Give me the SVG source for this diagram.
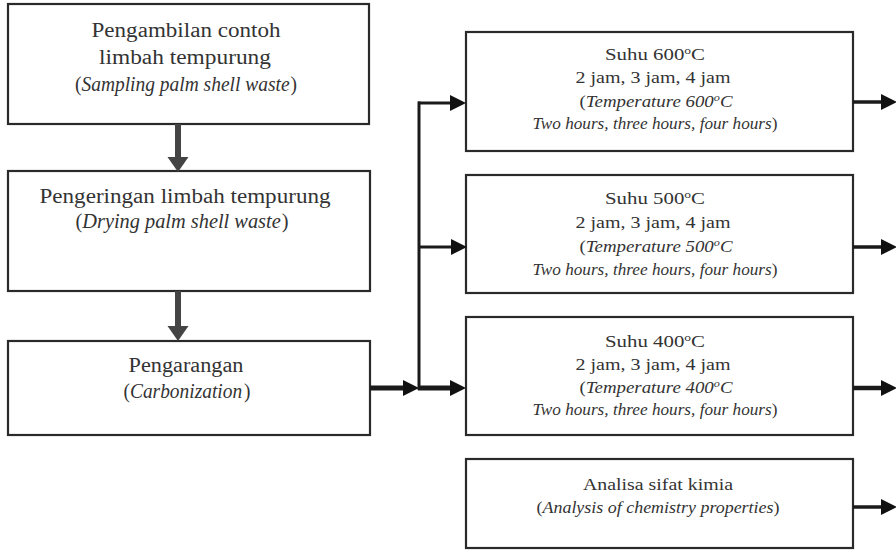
<svg xmlns="http://www.w3.org/2000/svg" width="896" height="551" viewBox="0 0 896 551">
<style>
.box{fill:#fff;stroke:#2a2a2a;stroke-width:2.2}
.t{fill:#333;text-anchor:middle}
.l{font-size:20px}
.r{font-size:17px}
.i{font-style:italic}
.c{fill:none;stroke:#1a1a1a}
.v{stroke:#444;stroke-width:6}
</style>
<defs>
<marker id="ah" markerUnits="userSpaceOnUse" markerWidth="17" markerHeight="17" refX="0" refY="8" orient="auto" viewBox="0 0 17 17">
<path d="M0,0 L16,8 L0,16 z" fill="#111"/>
</marker>
<marker id="av" markerUnits="userSpaceOnUse" markerWidth="16" markerHeight="22" refX="0" refY="10.5" orient="auto" viewBox="0 0 16 22">
<path d="M0,0 L15,10.5 L0,21 z" fill="#444"/>
</marker>
</defs>
<rect width="896" height="551" fill="#fff"/>
<g font-family="Liberation Serif, Times New Roman, serif">
<g id="n1">
<rect class="box" x="8" y="4" width="361" height="120"/>
<text class="t l" x="186" y="37" textLength="189" lengthAdjust="spacingAndGlyphs">Pengambilan contoh</text>
<text class="t l" x="185" y="64" textLength="172" lengthAdjust="spacingAndGlyphs">limbah tempurung</text>
<text class="t l" x="186" y="91" textLength="222" lengthAdjust="spacingAndGlyphs">(<tspan class="i">Sampling palm shell waste</tspan><tspan dx="1">)</tspan></text>
</g>
<g id="n2">
<rect class="box" x="8" y="171" width="362" height="120"/>
<text class="t l" x="185" y="203" textLength="291" lengthAdjust="spacingAndGlyphs">Pengeringan limbah tempurung</text>
<text class="t l" x="182" y="228" textLength="213" lengthAdjust="spacingAndGlyphs">(<tspan class="i">Drying palm shell waste</tspan><tspan dx="1">)</tspan></text>
</g>
<g id="n3">
<rect class="box" x="8" y="341" width="362" height="94"/>
<text class="t l" x="186" y="372" textLength="115" lengthAdjust="spacingAndGlyphs">Pengarangan</text>
<text class="t l" x="187" y="398" textLength="127" lengthAdjust="spacingAndGlyphs">(<tspan class="i">Carbonization</tspan><tspan dx="2">)</tspan></text>
</g>
<g id="n4">
<rect class="box" x="466" y="32" width="387" height="119"/>
<text class="t r" x="655" y="60" textLength="100" lengthAdjust="spacingAndGlyphs">Suhu 600<tspan dy="-6" font-size="11">o</tspan><tspan dy="6">C</tspan></text>
<text class="t r" x="653" y="83" textLength="155" lengthAdjust="spacingAndGlyphs">2 jam, 3 jam, 4 jam</text>
<text class="t r" x="656" y="107" textLength="153" lengthAdjust="spacingAndGlyphs">(<tspan class="i">Temperature 600</tspan><tspan class="i" dy="-6" font-size="11">o</tspan><tspan class="i" dy="6">C</tspan></text>
<text class="t r" x="655" y="129" textLength="245" lengthAdjust="spacingAndGlyphs"><tspan class="i">Two hours, three hours, four hours</tspan>)</text>
</g>
<g id="n5">
<rect class="box" x="466" y="175" width="387" height="118"/>
<text class="t r" x="655" y="204" textLength="100" lengthAdjust="spacingAndGlyphs">Suhu 500<tspan dy="-6" font-size="11">o</tspan><tspan dy="6">C</tspan></text>
<text class="t r" x="653" y="228" textLength="155" lengthAdjust="spacingAndGlyphs">2 jam, 3 jam, 4 jam</text>
<text class="t r" x="656" y="252" textLength="153" lengthAdjust="spacingAndGlyphs">(<tspan class="i">Temperature 500</tspan><tspan class="i" dy="-6" font-size="11">o</tspan><tspan class="i" dy="6">C</tspan></text>
<text class="t r" x="655" y="275" textLength="245" lengthAdjust="spacingAndGlyphs"><tspan class="i">Two hours, three hours, four hours</tspan>)</text>
</g>
<g id="n6">
<rect class="box" x="466" y="317" width="387" height="118"/>
<text class="t r" x="655" y="347" textLength="100" lengthAdjust="spacingAndGlyphs">Suhu 400<tspan dy="-6" font-size="11">o</tspan><tspan dy="6">C</tspan></text>
<text class="t r" x="653" y="370" textLength="155" lengthAdjust="spacingAndGlyphs">2 jam, 3 jam, 4 jam</text>
<text class="t r" x="656" y="393" textLength="153" lengthAdjust="spacingAndGlyphs">(<tspan class="i">Temperature 400</tspan><tspan class="i" dy="-6" font-size="11">o</tspan><tspan class="i" dy="6">C</tspan></text>
<text class="t r" x="655" y="415" textLength="245" lengthAdjust="spacingAndGlyphs"><tspan class="i">Two hours, three hours, four hours</tspan>)</text>
</g>
<g id="n7">
<rect class="box" x="466" y="459" width="387" height="89"/>
<text class="t r" x="658" y="490" textLength="150" lengthAdjust="spacingAndGlyphs">Analisa sifat kimia</text>
<text class="t r" x="658" y="513" textLength="243" lengthAdjust="spacingAndGlyphs">(<tspan class="i">Analysis of chemistry properties</tspan>)</text>
</g>
</g>
<g id="connectors">
<line class="c v" x1="178" y1="124" x2="178" y2="157" marker-end="url(#av)"/>
<line class="c v" x1="178" y1="291" x2="178" y2="326" marker-end="url(#av)"/>
<line class="c" stroke-width="5" x1="370" y1="388" x2="403" y2="388" marker-end="url(#ah)"/>
<line class="c" stroke-width="3" x1="419" y1="101.5" x2="419" y2="390"/>
<line class="c" stroke-width="3" x1="418" y1="103" x2="450" y2="103" marker-end="url(#ah)"/>
<line class="c" stroke-width="3" x1="418" y1="247" x2="451" y2="247" marker-end="url(#ah)"/>
<line class="c" stroke-width="5" x1="418" y1="388" x2="450" y2="388" marker-end="url(#ah)"/>
<line class="c" stroke-width="3.5" x1="853" y1="102" x2="881" y2="102" marker-end="url(#ah)"/>
<line class="c" stroke-width="3.5" x1="853" y1="247" x2="881" y2="247" marker-end="url(#ah)"/>
<line class="c" stroke-width="4.5" x1="853" y1="388" x2="881" y2="388" marker-end="url(#ah)"/>
<line class="c" stroke-width="3.5" x1="853" y1="507" x2="881" y2="507" marker-end="url(#ah)"/>
</g>
</svg>
